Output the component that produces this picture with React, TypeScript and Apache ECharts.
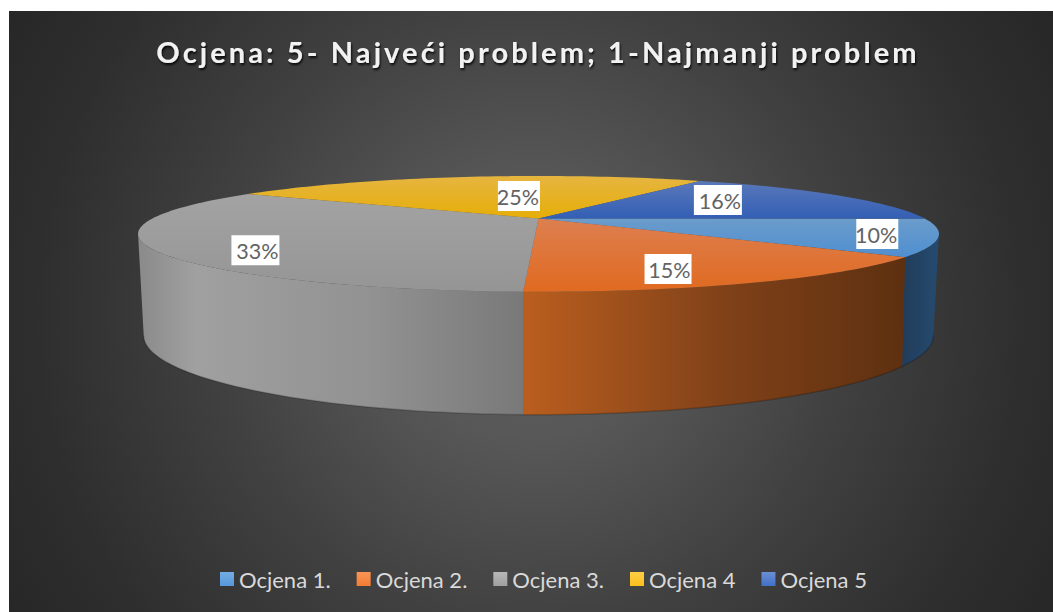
import React, { useEffect, useRef } from "react";
import * as echarts from "echarts";

const chartTitle = "Ocjena: 5- Najveći problem; 1-Najmanji problem";
const categories = ["Ocjena 1.", "Ocjena 2.", "Ocjena 3.", "Ocjena 4", "Ocjena 5"];
const shares = [10.3, 15.14, 33.16, 24.9, 16.4];

const legendColors = [
  ["#74ACE3", "#5698DA"],
  ["#F79558", "#F37D32"],
  ["#B8B8B8", "#A0A0A0"],
  ["#FFCE47", "#FBBE1C"],
  ["#6C8FD4", "#4170C8"],
];
const topColors = [
  ["#6B9CCB", "#4F8FD0"],
  ["#DD7F50", "#E06A20"],
  ["#A3A3A3", "#959595"],
  ["#E6B540", "#E6AE08"],
  ["#5A78BA", "#335FB4"],
];
const sideStops: [number, string][][] = [
  [[0, "#213C5A"], [1, "#264B70"]],
  [[0, "#BA5E1F"], [0.55, "#7E4018"], [1, "#5E3010"]],
  [[0, "#8A8A8A"], [0.15, "#A0A0A0"], [0.6, "#929292"], [1, "#797979"]],
  [[0, "#8A6A10"], [1, "#8A6A10"]],
  [[0, "#26406F"], [1, "#26406F"]],
];
// label placement inside each slice: radial fraction, angle shift from the slice middle
const labelRadial = [0.858, 0.797, 0.813, 0.474, 0.636];
const labelAngle = [-0.35, 5.9, -10.15, 7.05, -6.95];
const labelBoxWidth = [42, 47, 48, 42, 48];
const LABEL_BOX_HEIGHT = 30;

const TOP = { cx: 538.5, cy: 218.5, R: 386.1, k: 53.8, p: 0.2653 };
const BOTTOM = { cx: 538.5, cy: 313.6, R: 379, k: 72.8, p: 0.28 };
const START_ANGLE = 90;
// the wall's silhouette: where each projected rim is widest
const WALL_FROM = 106;
const WALL_TO = 254;
const RAD = Math.PI / 180;

type Disc = typeof TOP;
function project(d: Disc, deg: number, f = 1): [number, number] {
  const X = f * Math.sin(deg * RAD);
  const Z = -f * Math.cos(deg * RAD);
  const den = 1 - d.p * Z;
  return [d.cx + (d.R * X) / den, d.cy + (d.k * Z) / den];
}
function arc(d: Disc, a: number, b: number): [number, number][] {
  const n = Math.max(2, Math.ceil(Math.abs(b - a) / 1.5));
  const pts: [number, number][] = [];
  for (let i = 0; i <= n; i++) pts.push(project(d, a + ((b - a) * i) / n));
  return pts;
}
const total = shares.reduce((s, v) => s + v, 0);

function sliceRange(i: number): [number, number] {
  let a = START_ANGLE;
  for (let j = 0; j < i; j++) a += (shares[j] / total) * 360;
  return [a, a + (shares[i] / total) * 360];
}

function makeRenderItem(i: number) {
  return (_params: any, api: any) => {
    const value = api.value(0);
    const [a, b] = sliceRange(i);
    const children: any[] = [];
    const wa = Math.max(a, WALL_FROM);
    const wb = Math.min(b, WALL_TO);
    if (wb > wa) {
      const upper = arc(TOP, wa, wb);
      const lower = arc(BOTTOM, wa, wb);
      children.push({
        type: "polygon",
        shape: { points: upper.concat(lower.slice().reverse()) },
        style: {
          fill: new echarts.graphic.LinearGradient(
            0, 0, 1, 0,
            sideStops[i].map(([offset, color]) => ({ offset, color }))
          ),
        },
        z2: 1,
      });
      children.push({
        type: "polyline",
        shape: { points: lower },
        style: { stroke: "rgba(0,0,0,0.2)", lineWidth: 1.5, fill: "none" },
        z2: 2,
      });
    }
    const centre = project(TOP, 0, 0);
    children.push({
      type: "polygon",
      shape: { points: [centre as [number, number]].concat(arc(TOP, a, b)) },
      style: {
        fill: new echarts.graphic.LinearGradient(0, 0, 0, 1, [
          { offset: 0, color: topColors[i][0] },
          { offset: 1, color: topColors[i][1] },
        ]),
      },
      z2: 3,
    });
    const mid = (a + b) / 2 + labelAngle[i];
    const [lx, ly] = project(TOP, mid, labelRadial[i]);
    const w = labelBoxWidth[i];
    children.push({
      type: "rect",
      z2: 99,
      shape: { x: lx - w / 2, y: ly - LABEL_BOX_HEIGHT / 2, width: w, height: LABEL_BOX_HEIGHT },
      style: { fill: "#FFFFFF" },
    });
    children.push({
      type: "text",
      z2: 100,
      style: {
        x: lx + w / 2 - 1,
        y: ly + 1,
        text: Math.round(value) + "%",
        fill: "#636363",
        fontFamily: "Lato",
        fontSize: 21.5,
        align: "right",
        verticalAlign: "middle",
      },
    });
    return { type: "group", children };
  };
}

export default function App() {
  const ref = useRef<HTMLDivElement>(null);
  useEffect(() => {
    const chart = echarts.init(ref.current!, undefined, { renderer: "svg" });
    chart.setOption({
      animation: false,
      backgroundColor: "#FFFFFF",
      graphic: [
        {
          type: "rect",
          z: -10,
          silent: true,
          shape: { x: 9, y: 11, width: 1044, height: 601 },
          style: {
            fill: new echarts.graphic.RadialGradient(
              531, 312, 620,
              [
                { offset: 0, color: "#5E5E5E" },
                { offset: 0.2, color: "#585858" },
                { offset: 0.5, color: "#414141" },
                { offset: 0.8, color: "#2E2E2E" },
                { offset: 1, color: "#262626" },
              ],
              true
            ),
          },
        },
      ],
      title: {
        text: chartTitle,
        left: 533,
        top: 32,
        textAlign: "center",
        textStyle: {
          color: "#F2F2F2",
          fontFamily: "Lato",
          fontWeight: "bold",
          fontSize: 29,
          textShadowColor: "rgba(0,0,0,0.85)",
          textShadowBlur: 2,
          textShadowOffsetX: 1,
          textShadowOffsetY: 2,
        },
      },
      legend: {
        left: 215,
        top: 563,
        itemWidth: 14,
        itemHeight: 14,
        itemGap: 26,
        icon: "rect",
        textStyle: { color: "#D9D9D9", fontFamily: "Lato", fontSize: 22 },
        data: categories.map((name, i) => ({
          name,
          itemStyle: {
            color: new echarts.graphic.LinearGradient(0, 0, 0, 1, [
              { offset: 0, color: legendColors[i][0] },
              { offset: 1, color: legendColors[i][1] },
            ]),
          },
        })),
      },
      series: categories.map((name, i) => ({
        type: "custom",
        name,
        coordinateSystem: "none",
        silent: true,
        itemStyle: { color: legendColors[i][1] },
        data: [[shares[i]]],
        renderItem: makeRenderItem(i),
      })),
    });
    ref.current!.querySelectorAll("text").forEach((t) => {
      if ((t.textContent || "").startsWith("Ocjena:")) {
        t.setAttribute("letter-spacing", "3.1");
      }
    });
    return () => chart.dispose();
  }, []);
  return (
    <div
      ref={ref}
      style={{ position: "fixed", left: 0, top: 0, width: 1053, height: 612 }}
    />
  );
}
